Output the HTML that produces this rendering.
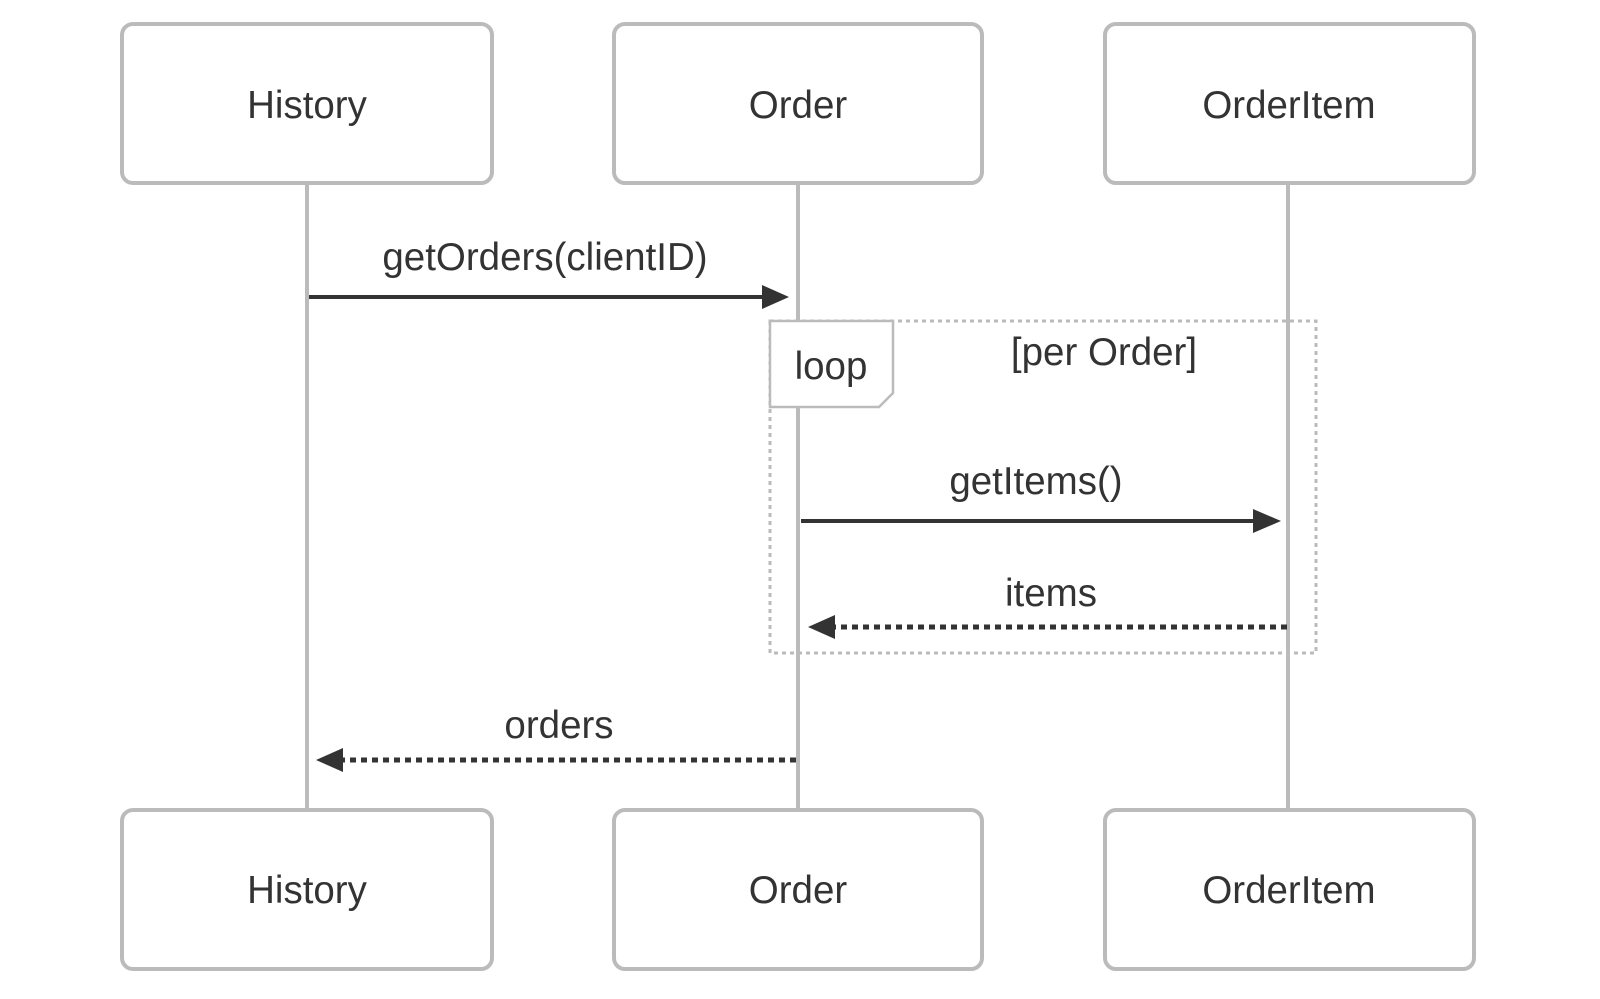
<!DOCTYPE html>
<html><head><meta charset="utf-8"><style>
html,body{margin:0;padding:0;background:#fff;}
svg{display:block;}
text{font-family:"Liberation Sans",Arial,sans-serif;fill:#333;}
</style></head><body>
<svg width="1600" height="999" viewBox="0 0 1600 999" xmlns="http://www.w3.org/2000/svg">
<g stroke="#bbb" stroke-width="4">
<line x1="307" y1="184" x2="307" y2="810"/>
<line x1="798" y1="184" x2="798" y2="810"/>
<line x1="1288" y1="184" x2="1288" y2="810"/>
</g>
<g fill="#fff" stroke="#bbb" stroke-width="4">
<rect x="122" y="24" width="370" height="159" rx="11"/>
<rect x="614" y="24" width="368" height="159" rx="11"/>
<rect x="1105" y="24" width="369" height="159" rx="11"/>
<rect x="122" y="810" width="370" height="159" rx="11"/>
<rect x="614" y="810" width="368" height="159" rx="11"/>
<rect x="1105" y="810" width="369" height="159" rx="11"/>
</g>
<g font-size="38.5" text-anchor="middle">
<text x="307" y="118">History</text>
<text x="798" y="118">Order</text>
<text x="1289" y="118">OrderItem</text>
<text x="307" y="903">History</text>
<text x="798" y="903">Order</text>
<text x="1289" y="903">OrderItem</text>
</g>
<rect x="770" y="321" width="546" height="332" fill="none" stroke="#bbb" stroke-width="3" stroke-dasharray="4,4"/>
<path d="M770,321 L893,321 L893,393 L879,407 L770,407 Z" fill="#fff" stroke="#bbb" stroke-width="2.5"/>
<text x="831" y="379" font-size="38.5" text-anchor="middle">loop</text>
<text x="1104" y="365" font-size="38.5" text-anchor="middle">[per Order]</text>
<g stroke="#333" stroke-width="4" fill="none">
<line x1="309" y1="297" x2="772" y2="297"/>
<line x1="801" y1="521" x2="1264" y2="521"/>
<line x1="1287" y1="627" x2="826" y2="627" stroke-dasharray="6,5" stroke-width="5"/>
<line x1="796" y1="760" x2="334" y2="760" stroke-dasharray="6,5" stroke-width="5"/>
</g>
<g fill="#333">
<path d="M762,285 L789,297 L762,309 Z"/>
<path d="M1253,509 L1281,521 L1253,533 Z"/>
<path d="M835,615 L808,627 L835,639 Z"/>
<path d="M343,748 L316,760 L343,772 Z"/>
</g>
<g font-size="38.5" text-anchor="middle">
<text x="545" y="270">getOrders(clientID)</text>
<text x="1036" y="494">getItems()</text>
<text x="1051" y="606">items</text>
<text x="559" y="738">orders</text>
</g>
</svg>
</body></html>
